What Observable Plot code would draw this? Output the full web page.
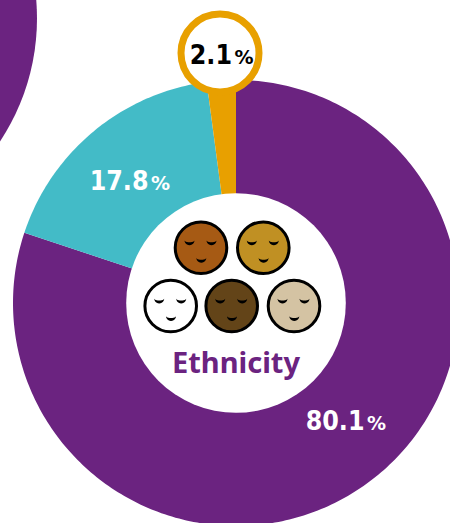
<!DOCTYPE html>
<html><head><meta charset="utf-8">
<script src="https://cdn.jsdelivr.net/npm/d3@7"></script>
<script src="https://cdn.jsdelivr.net/npm/@observablehq/plot@0.6"></script>
<style>html,body{margin:0;padding:0;background:#fff}svg{display:block}</style>
</head><body><div id="c"></div>
<script>
const categories = ["Group A", "Group B", "Group C"];
const values = [80.1, 17.8, 2.1];
const sliceColors = ["#6b2380", "#43bbc7", "#e8a000"];
const valueLabels = ["80.1", "17.8", "2.1"];
const labelColors = ["#fff", "#fff", "#000"];
const labelX = [364, 148, 231.5];
const labelY = [421, 181, 55];
const faceColors = ["#a65a14", "#c09023", "#ffffff", "#634418", "#d4c3a3"];
const faceX = [200.5, 262.8, 170.2, 231.2, 293.5];
const faceY = [247.2, 247.2, 305.5, 305.5, 305.5];

const cx = 235.5, cy = 302.5, R = 223, hole = 109.8;
const pie = d3.pie().sort(null)(values);
const slicePath = (a0, a1, r) => {
  const pts = [{x: cx, y: cy}];
  const n = Math.ceil((a1 - a0) * 60);
  for (let i = 0; i <= n; i++) {
    const a = a0 + (a1 - a0) * i / n;
    pts.push({x: cx + r * Math.sin(a), y: cy - r * Math.cos(a)});
  }
  return pts;
};
const sliceMarks = pie.map((p, i) =>
  Plot.line(slicePath(p.startAngle, p.endAngle, i === 2 ? 240 : R),
    {x: "x", y: "y", fill: sliceColors[i], stroke: "none"}));

const faces = faceColors.map((color, i) => ({x: faceX[i], y: faceY[i], color}));
const crescent = (x0, y0, w, key) => {
  const pts = [];
  for (let i = 0; i <= 12; i++) { const t = i / 12 * Math.PI; pts.push({x: x0 - w * Math.cos(t), y: y0 + 1.0 * w * Math.sin(t), key}); }
  for (let i = 12; i >= 0; i--) { const t = i / 12 * Math.PI; pts.push({x: x0 - w * Math.cos(t), y: y0 + 0.42 * w * Math.sin(t), key}); }
  return pts;
};
const featurePts = faces.flatMap((f, i) => [
  ...crescent(f.x - 11.5, f.y - 7.5, 5, i + "a"),
  ...crescent(f.x + 10.5, f.y - 7.5, 5, i + "b"),
  ...crescent(f.x + 0.3, f.y + 10, 5, i + "c")
]);
const labels = valueLabels.map((t, i) => ({t, pct: "%", x: labelX[i], y: labelY[i], color: labelColors[i]}));
const numFont = "'DejaVu Sans Condensed', 'DejaVu Sans'";

const chart = Plot.plot({
  width: 450, height: 523, margin: 0,
  x: {domain: [0, 450], range: [0, 450], axis: null},
  y: {domain: [0, 523], range: [0, 523], axis: null},
  style: {background: "#fff"},
  marks: [
    Plot.dot([{x: -186.5, y: 18}], {x: "x", y: "y", r: R, fill: sliceColors[0], stroke: "none"}),
    ...sliceMarks,
    Plot.dot([{x: cx, y: cy}], {x: "x", y: "y", r: hole, fill: "#fff", stroke: "none"}),
    Plot.dot([{x: 219.5, y: 52.5}], {x: "x", y: "y", r: 39, fill: "#fff", stroke: sliceColors[2], strokeWidth: 7}),
    Plot.dot(faces, {x: "x", y: "y", r: 25.8, fill: "color", stroke: "#000", strokeWidth: 3}),
    Plot.line(featurePts, {x: "x", y: "y", z: "key", fill: "#000", stroke: "none"}),
    Plot.text(labels, {x: "x", y: "y", text: "t", fill: "color", textAnchor: "end", fontFamily: numFont, fontWeight: 700, fontSize: 26.5}),
    Plot.text(labels, {x: "x", y: "y", dx: 2.5, dy: 2.2, text: "pct", fill: "color", textAnchor: "start", fontFamily: "DejaVu Sans", fontWeight: 700, fontSize: 19}),
    Plot.text(["Ethnicity"], {x: [cx], y: [363], text: d => d, fill: sliceColors[0], fontFamily: "Noto Sans", fontWeight: 700, fontSize: 29})
  ]
});
document.getElementById("c").append(chart);
</script></body></html>
